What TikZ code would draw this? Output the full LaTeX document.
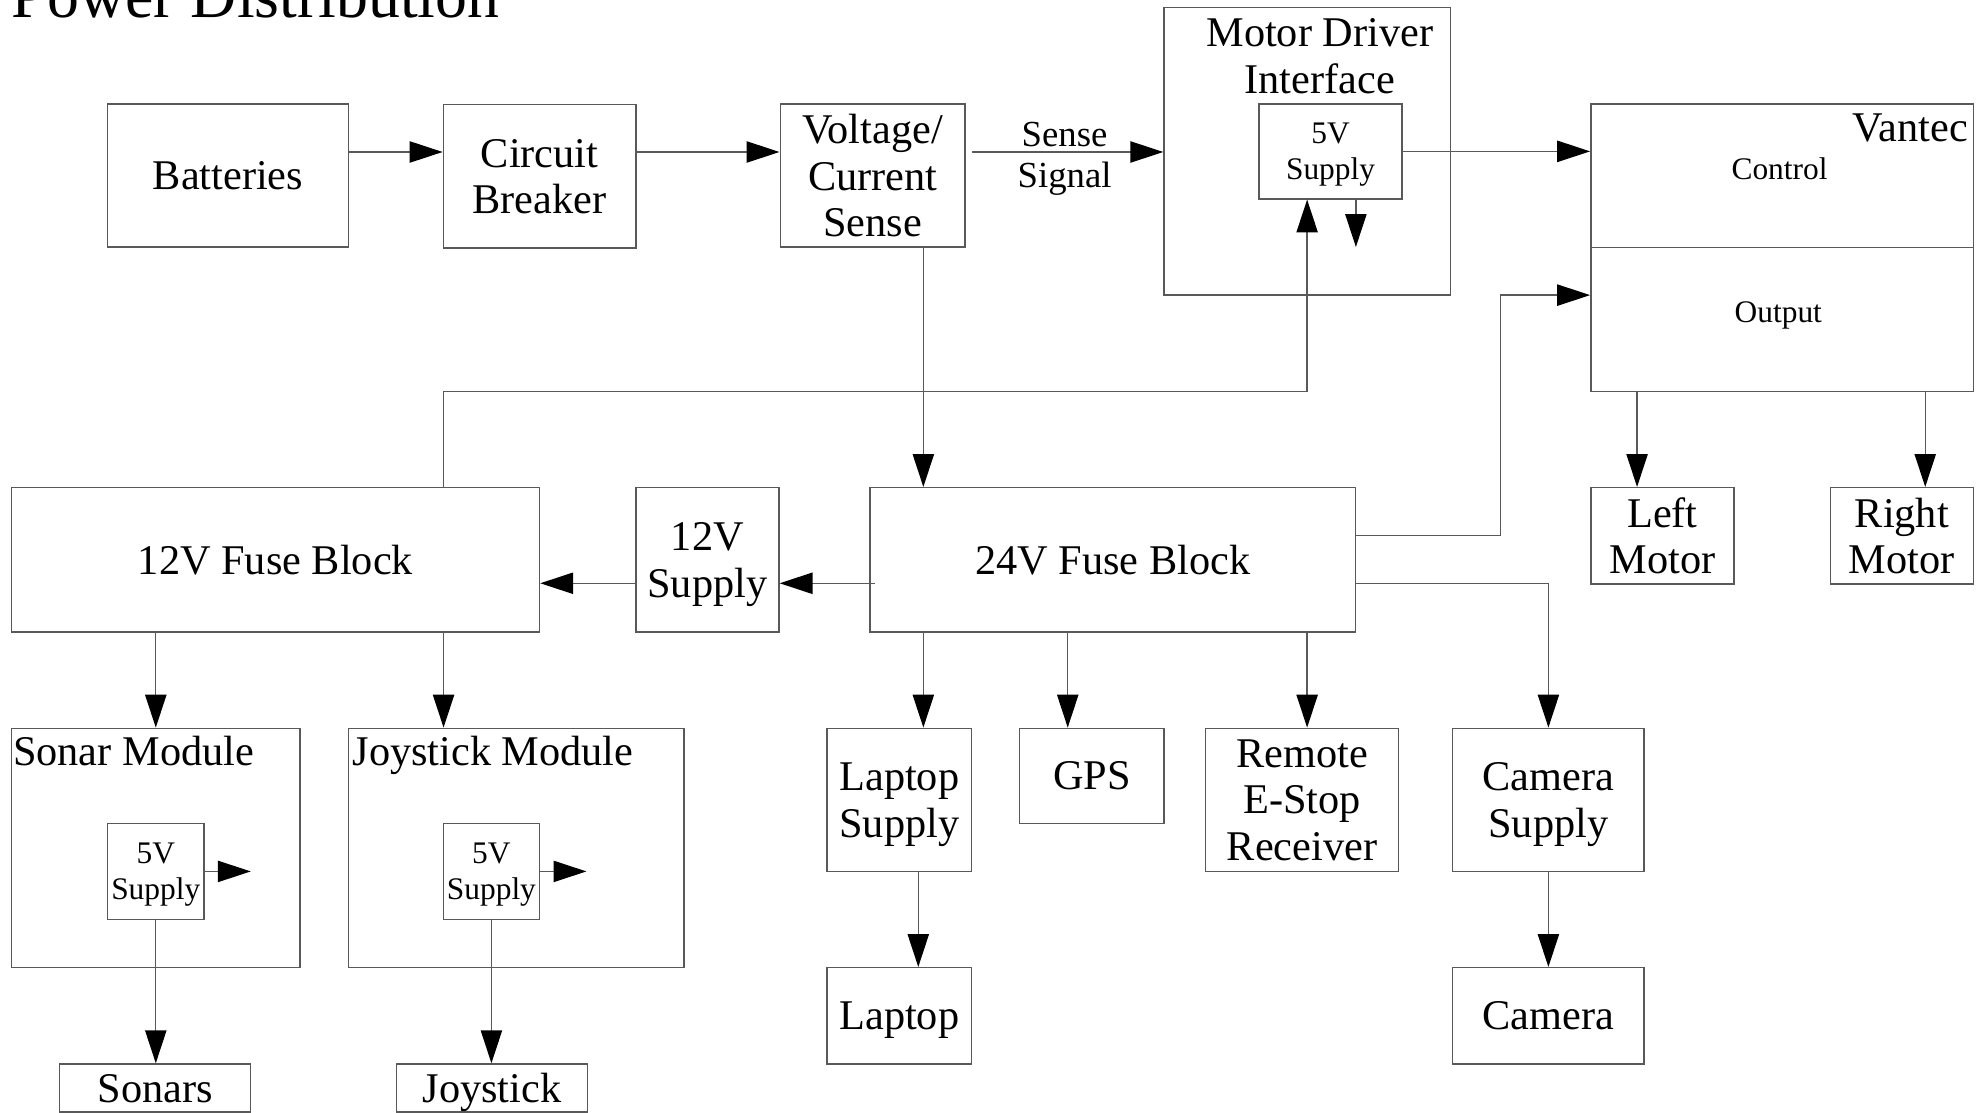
\documentclass[tikz,border=0pt]{standalone}
\usepackage{fontspec}
\setmainfont{Liberation Serif}
\usetikzlibrary{arrows.meta}
\newcommand\fbig{\fontsize{16.7pt}{18.4pt}\selectfont}
\newcommand\fmid{\fontsize{14.5pt}{16.1pt}\selectfont}
\newcommand\fsmall{\fontsize{12.4pt}{14.4pt}\selectfont}
\newcommand\ftitle{\fontsize{25.2pt}{28pt}\selectfont}
\begin{document}
\begin{tikzpicture}[x=0.5pt,y=-0.5pt,
  box/.style={draw=black!65, line width=0.55pt, inner sep=0pt, align=center, font=\fbig, text=black, text depth=0pt},
  sbox/.style={box, font=\fsmall},
  arr/.style={draw=black!65, line width=0.55pt, -{Triangle[length=13pt,width=8.4pt,color=black]}},
  lbl/.style={inner sep=0pt, text=black}]
\useasboundingbox (0,0) rectangle (1568,878.7);

% title
\node[lbl, font=\ftitle, anchor=base west] (title) at (9,13.7) {Power Distribution};

% top row
\node[box, minimum width=95pt, minimum height=56.5pt] (bat) at (180,138.5) {Batteries};
\node[box, minimum width=76pt, minimum height=56.5pt] (cb) at (426,139.2) {Circuit\\Breaker};
\node[box, minimum width=73pt, minimum height=56.5pt] (vcs) at (689,138.5) {Voltage/\\Current\\Sense};
\node[box, minimum width=113pt, minimum height=113.5pt] (mdi) at (1032,119.5) {};
\node[lbl, font=\fbig, align=center] (mdit) at (1042,44.2) {Motor Driver\\Interface};
\node[sbox, minimum width=56.5pt, minimum height=37.5pt] (mdi5) at (1050.5,119.5) {5V\\Supply};
\node[box, minimum width=151pt, minimum height=56.75pt] (vctl) at (1407,138.75) {};
\node[box, minimum width=151pt, minimum height=56.75pt] (vout) at (1407,252.25) {};
\node[lbl, font=\fbig, anchor=base east] (vant) at (1554,112) {Vantec};
\node[lbl, font=\fsmall, anchor=base] (ctlt) at (1405,142) {Control};
\node[lbl, font=\fsmall, anchor=base] (outt) at (1404,255) {Output};

% middle row
\node[box, minimum width=208.5pt, minimum height=57pt] (f12) at (217.5,442) {12V Fuse Block};
\node[box, minimum width=56.5pt, minimum height=57pt] (s12) at (558.5,442) {12V\\Supply};
\node[box, minimum width=191.5pt, minimum height=57pt] (f24) at (878.5,442) {24V Fuse Block};
\node[box, minimum width=56.5pt, minimum height=38pt] (lm) at (1312.5,423) {Left\\Motor};
\node[box, minimum width=56.5pt, minimum height=38pt] (rm) at (1501.5,423) {Right\\Motor};

% lower rows
\node[box, minimum width=114pt, minimum height=94.5pt] (son) at (123,669.5) {};
\node[lbl, font=\fbig, anchor=base west] (sont) at (10,604) {Sonar Module};
\node[sbox, minimum width=38pt, minimum height=38pt] (son5) at (123,688) {5V\\Supply};
\node[box, minimum width=75.5pt, minimum height=19pt] (sonars) at (122.5,859) {Sonars};
\node[box, minimum width=132.5pt, minimum height=94.5pt] (joy) at (407.5,669.5) {};
\node[lbl, font=\fbig, anchor=base west] (joyt) at (278,604) {Joystick Module};
\node[sbox, minimum width=38pt, minimum height=38pt] (joy5) at (388,688) {5V\\Supply};
\node[box, minimum width=75.5pt, minimum height=19pt] (joystick) at (388.5,859) {Joystick};

\node[box, minimum width=57pt, minimum height=56.5pt] (lsup) at (710,631.5) {Laptop\\Supply};
\node[box, minimum width=57pt, minimum height=37.5pt] (gps) at (862,612.5) {GPS};
\node[box, minimum width=76pt, minimum height=56.5pt] (estop) at (1028,631.5) {Remote\\E-Stop\\Receiver};
\node[box, minimum width=75.5pt, minimum height=56.5pt] (csup) at (1222.5,631.5) {Camera\\Supply};
\node[box, minimum width=57pt, minimum height=38pt] (laptop) at (710,802) {Laptop};
\node[box, minimum width=75.5pt, minimum height=38pt] (camera) at (1222.5,802) {Camera};

% helper coordinates
\coordinate (y120) at (0,120);
\coordinate (y233) at (0,233);
\coordinate (y423) at (0,422.9);
\coordinate (y460) at (0,460.5);
\coordinate (x729) at (729,0);
\coordinate (x725) at (725,0);
\coordinate (x843) at (843,0);
\coordinate (x1032) at (1032,0);
\coordinate (x1184) at (1184.5,0);
\coordinate (x1292) at (1292.5,0);
\coordinate (x1520) at (1520,0);
\coordinate (x350) at (350.2,0);
\coordinate (k350) at (350.2,309);
\coordinate (k1032) at (1032,309);
\coordinate (mddn) at (1070.5,195);
\coordinate (s5r) at (198,688);
\coordinate (j5r) at (463,688);

% connectors
\draw[arr] (bat.east |- y120) -- (cb.west |- y120);
\draw[arr] (cb.east |- y120) -- (vcs.west |- y120);
\draw[arr, shorten <=2.5pt] (vcs.east |- y120) -- node[lbl, font=\fmid, align=center, text depth=0pt, yshift=-1pt] (ss) {Sense\\Signal} (mdi.west |- y120);
\draw[arr] (mdi5.east) -- (vctl.west |- mdi5.east);
\draw[arr] (mdi5.south -| mddn) -- (mddn);
\draw[arr] (f12.north -| k350) -- (k350) -- (k1032) -- (mdi5.south -| k1032);
\draw[arr] (vcs.south -| x729) -- (f24.north -| x729);
\draw[arr, shorten <=-2pt] (f24.west |- y460) -- (s12.east |- y460);
\draw[arr] (s12.west |- y460) -- (f12.east |- y460);
\draw[arr] (f24.east |- y423) -| (x1184 |- y233) -- (vout.west |- y233);
\draw[arr] (f24.east |- y460) -| (csup.north);
\draw[arr] (f24.south -| x729) -- (lsup.north -| x729);
\draw[arr] (f24.south -| x843) -- (gps.north -| x843);
\draw[arr] (f24.south -| x1032) -- (estop.north -| x1032);
\draw[arr] (lsup.south -| x725) -- (laptop.north -| x725);
\draw[arr] (csup.south) -- (camera.north -| csup.south);
\draw[arr] (vout.south -| x1292) -- (lm.north -| x1292);
\draw[arr] (vout.south -| x1520) -- (rm.north -| x1520);
\draw[arr] (f12.south -| son.north) -- (son.north);
\draw[arr] (f12.south -| x350) -- (joy.north -| x350);
\draw[arr] (son5.east) -- (s5r);
\draw[arr] (son5.south) -- (sonars.north -| son5.south);
\draw[arr] (joy5.east) -- (j5r);
\draw[arr] (joy5.south) -- (joystick.north -| joy5.south);
\end{tikzpicture}
\end{document}
